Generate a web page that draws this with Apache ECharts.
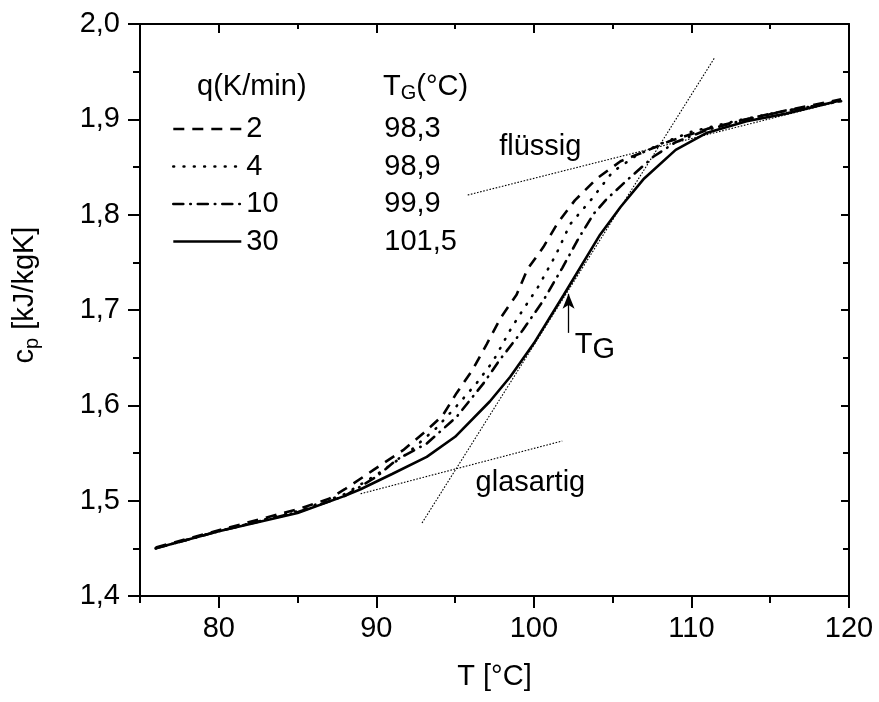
<!DOCTYPE html>
<html><head><meta charset="utf-8">
<script src="https://cdn.jsdelivr.net/npm/echarts@6/dist/echarts.min.js"></script>
<style>html,body{margin:0;padding:0;background:#fff}#c{width:879px;height:702px}</style>
</head><body><div id="c"></div>
<script>
// ---- data ----
const rates = ['2', '4', '10', '30'];
const tgValues = ['98,3', '98,9', '99,9', '101,5'];

const T_2  = [76, 80, 85, 87, 88, 89.8, 91.7, 93, 94.2, 95.1, 96.1, 97, 97.9, 98.9, 99.6, 100.6, 101.5, 102.6, 104, 105.5, 107, 108.6, 111, 113.7, 116.2, 119.5];
const cp_2 = [1.451, 1.469, 1.491, 1.502, 1.512, 1.532, 1.553, 1.571, 1.589, 1.613, 1.637, 1.664, 1.692, 1.716, 1.743, 1.766, 1.791, 1.815, 1.838, 1.856, 1.866, 1.877, 1.890, 1.901, 1.910, 1.921];

const T_4  = [76, 80, 85, 88, 90, 92, 93.8, 95.3, 96.4, 97.4, 98.5, 99.1, 100.3, 101.4, 102.3, 103.7, 105, 106.5, 108, 110, 113, 116, 119.5];
const cp_4 = [1.450, 1.468, 1.489, 1.507, 1.527, 1.550, 1.576, 1.603, 1.624, 1.646, 1.679, 1.695, 1.725, 1.758, 1.790, 1.817, 1.845, 1.862, 1.874, 1.887, 1.899, 1.909, 1.919];

const T_10  = [76, 80, 85, 88, 90, 91.3, 93.2, 95.1, 96.8, 97.8, 99.3, 100.6, 101.8, 102.9, 103.8, 104.6, 105.9, 107.6, 109, 111, 113.5, 116, 119.5];
const cp_10 = [1.450, 1.468, 1.488, 1.505, 1.525, 1.543, 1.560, 1.588, 1.623, 1.647, 1.679, 1.710, 1.744, 1.777, 1.801, 1.816, 1.836, 1.861, 1.876, 1.889, 1.900, 1.909, 1.919];

const T_30  = [76, 80, 85, 88, 89, 91, 93.2, 95, 97.2, 98.5, 100, 101.9, 104.2, 105.5, 107, 109, 111, 113.5, 116, 119.5];
const cp_30 = [1.450, 1.468, 1.487, 1.505, 1.512, 1.528, 1.546, 1.567, 1.604, 1.630, 1.665, 1.716, 1.779, 1.808, 1.838, 1.868, 1.886, 1.898, 1.906, 1.920];

// tangents (end points in data units)
const tanLiquidT = [95.8, 119.5];  const tanLiquidCp = [1.8206, 1.9194];
const tanGlassT  = [89, 101.8];    const tanGlassCp  = [1.5072, 1.5626];
const tanSteepT  = [92.9, 111.5];  const tanSteepCp  = [1.4766, 1.9654];

// annotation
const arrowT = [102.2, 102.2]; const arrowCp = [1.676, 1.717];
const noteLabels = ['flüssig', 'glasartig', 'TG'];
const noteT  = [97.8, 96.3, 102.6];
const noteCp = [1.871, 1.5185, 1.661];

// ticks
const xMajorTicks = [80, 90, 100, 110, 120];
const xMinorTicks = [75, 85, 95, 105, 115];
const yMin = 1.4, yMax = 2.0, yStep = 0.1;

// ---- chart ----
const FONT = 'Liberation Sans, Arial, sans-serif';
const FS = 29;
const zip = (a, b) => a.map((v, i) => [v, b[i]]);

const chart = echarts.init(document.getElementById('c'), null, {renderer: 'canvas'});

const styles = [
  {type: [11, 8], cap: 'butt'},
  {type: [0.8, 9.5], cap: 'round'},
  {type: [10, 7, 0.5, 7], cap: 'round'},
  {type: 'solid', cap: 'butt'}
];
const curves = [zip(T_2, cp_2), zip(T_4, cp_4), zip(T_10, cp_10), zip(T_30, cp_30)];

const series = curves.map((d, i) => ({
  name: rates[i], type: 'line', data: d, symbol: 'none', showSymbol: false, smooth: false,
  lineStyle: {color: '#000', width: 2.6, type: styles[i].type, cap: styles[i].cap},
  itemStyle: {color: '#000'}, z: 5, silent: true
}));

const thin = {color: '#000', width: 1.1, type: [1.6, 1.6]};
[[tanLiquidT, tanLiquidCp], [tanGlassT, tanGlassCp], [tanSteepT, tanSteepCp]].forEach(p => {
  series.push({type: 'line', data: zip(p[0], p[1]), symbol: 'none', lineStyle: thin, z: 3, silent: true});
});

series.push({
  type: 'line', data: [], symbol: 'none', silent: true,
  markLine: {
    silent: true, symbol: ['none', 'arrow'], symbolSize: [9, 15],
    label: {show: false},
    lineStyle: {color: '#000', width: 1.3, type: 'solid'},
    data: [[{coord: [arrowT[0], arrowCp[0]]}, {coord: [arrowT[1], arrowCp[1]]}]]
  }
});

series.push({
  type: 'scatter', symbolSize: 0, silent: true,
  itemStyle: {opacity: 1, color: '#000'},
  data: noteLabels.map((n, i) => ({value: [noteT[i], noteCp[i]], name: n})),
  label: {
    show: true, position: 'right', distance: 0, color: '#000', fontFamily: FONT, fontSize: FS,
    formatter: p => p.name === 'TG' ? '{t|T}{g|G}' : p.name,
    rich: {t: {fontFamily: FONT, fontSize: FS, color: '#000', verticalAlign: 'top'},
           g: {fontFamily: FONT, fontSize: FS, color: '#000', verticalAlign: 'top', padding: [5, 0, 0, 0]}}
  }
});

const axLine = {show: true, lineStyle: {color: '#000', width: 2}};
const xBase = {type: 'value', min: 75, max: 120, splitLine: {show: false}, gridIndex: 0};

const option = {
  animation: false,
  backgroundColor: '#fff',
  textStyle: {fontFamily: FONT, color: '#000'},
  grid: {left: 140, right: 30, top: 24, bottom: 106, containLabel: false},
  legend: {
    show: true, orient: 'vertical', left: 172, top: 114, padding: 0,
    itemWidth: 68, itemHeight: 14, itemGap: 7.5,
    data: rates, selectedMode: false,
    itemStyle: {opacity: 0, borderWidth: 0},
    lineStyle: {opacity: 1, width: 2.6},
    textStyle: {fontFamily: FONT, fontSize: FS, color: '#000', lineHeight: 30,
      rich: {a: {fontFamily: FONT, fontSize: FS, color: '#000', width: 138, lineHeight: 30},
             b: {fontFamily: FONT, fontSize: FS, color: '#000', lineHeight: 30}}},
    formatter: n => '{a|' + n + '}{b|' + tgValues[rates.indexOf(n)] + '}'
  },
  graphic: [
    {type: 'text', left: 197, top: 72, style: {text: 'q(K/min)', fontFamily: FONT, fontSize: FS, fill: '#000'}},
    {type: 'text', left: 383, top: 72, style: {
      text: '{t|T}{s|G}{t|(°C)}', fontFamily: FONT, fontSize: FS, fill: '#000',
      rich: {t: {fontFamily: FONT, fontSize: FS, fill: '#000'},
             s: {fontFamily: FONT, fontSize: 20, fill: '#000', padding: [14, 0, 0, 0]}}}}
  ],
  xAxis: [
    Object.assign({}, xBase, {position: 'bottom', axisLine: axLine,
      axisTick: {show: true, inside: false, length: 12, customValues: xMajorTicks, lineStyle: {color: '#000', width: 2}},
      axisLabel: {show: true, customValues: xMajorTicks, margin: 18, fontFamily: FONT, fontSize: FS, color: '#000'},
      name: 'T [°C]', nameLocation: 'middle', nameGap: 66,
      nameTextStyle: {fontFamily: FONT, fontSize: FS, color: '#000'}}),
    Object.assign({}, xBase, {position: 'bottom', axisLine: {show: false},
      axisTick: {show: true, inside: false, length: 7, customValues: xMinorTicks, lineStyle: {color: '#000', width: 2}},
      axisLabel: {show: false}}),
    Object.assign({}, xBase, {position: 'top', axisLine: axLine,
      axisTick: {show: true, inside: true, length: 9, customValues: xMajorTicks, lineStyle: {color: '#000', width: 2}},
      axisLabel: {show: false}}),
    Object.assign({}, xBase, {position: 'top', axisLine: {show: false},
      axisTick: {show: true, inside: true, length: 5, customValues: xMinorTicks, lineStyle: {color: '#000', width: 2}},
      axisLabel: {show: false}})
  ],
  yAxis: [
    {type: 'value', min: yMin, max: yMax, interval: yStep, position: 'left', splitLine: {show: false},
      axisLine: axLine,
      axisTick: {show: true, inside: false, length: 12, lineStyle: {color: '#000', width: 2}},
      minorTick: {show: true, splitNumber: 2, length: 7, lineStyle: {color: '#000', width: 2}},
      minorSplitLine: {show: false},
      axisLabel: {margin: 20, fontFamily: FONT, fontSize: FS, color: '#000',
        formatter: v => v.toFixed(1).replace('.', ',')},
      name: '{c|c}{p|p}{c| [kJ/kgK]}', nameLocation: 'middle', nameGap: 98, nameRotate: 90,
      nameTextStyle: {fontFamily: FONT, fontSize: FS, color: '#000', padding: [0, 0, 0, 30],
        rich: {c: {fontFamily: FONT, fontSize: FS, color: '#000'},
               p: {fontFamily: FONT, fontSize: 20, color: '#000', padding: [14, 0, 0, 0]}}}},
    {type: 'value', min: yMin, max: yMax, interval: yStep, position: 'right', splitLine: {show: false},
      axisLine: axLine,
      axisTick: {show: true, inside: true, length: 8, lineStyle: {color: '#000', width: 2}},
      minorTick: {show: true, splitNumber: 2, length: 6, lineStyle: {color: '#000', width: 2}},
      axisLabel: {show: false}}
  ],
  series: series
};
chart.setOption(option);
</script>
</body></html>
